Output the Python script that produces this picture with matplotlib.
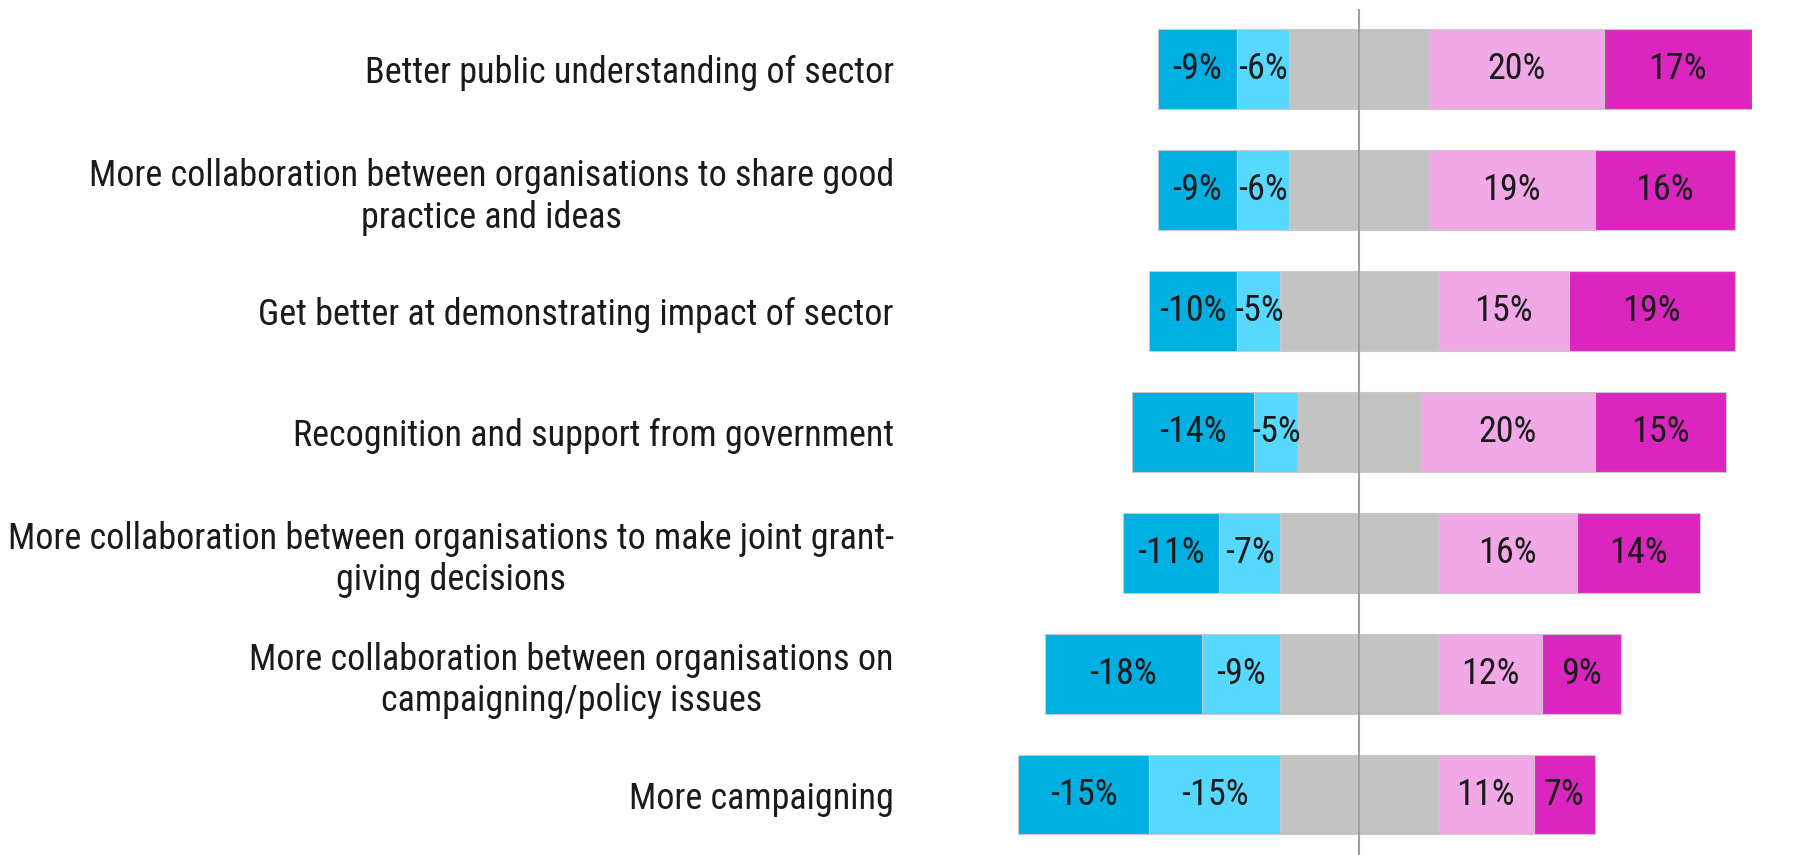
import matplotlib as mat
mat.use('Agg')
import matplotlib.pyplot as plt
from matplotlib import font_manager

categories = [
    "Better public understanding of sector",
    "More collaboration between organisations to share good\npractice and ideas",
    "Get better at demonstrating impact of sector",
    "Recognition and support from government",
    "More collaboration between organisations to make joint grant-\ngiving decisions",
    "More collaboration between organisations on\ncampaigning/policy issues",
    "More campaigning",
]
strong_neg = [-9, -9, -10, -14, -11, -18, -15]
neg = [-6, -6, -5, -5, -7, -9, -15]
neutral = [16, 16, 18, 14, 18, 18, 18]
pos = [20, 19, 15, 20, 16, 12, 11]
strong_pos = [17, 16, 19, 15, 14, 9, 7]

# pick a narrow font if one is around, the original text is fairly condensed
names = set(f.name for f in font_manager.fontManager.ttflist)
font, fsize = "DejaVu Sans", 20
for cand in ["Roboto Condensed", "Liberation Sans Narrow", "DejaVu Sans Condensed",
             "Noto Sans Condensed", "Open Sans Condensed"]:
    if cand in names:
        font, fsize = cand, 26
        break
plt.rcParams['font.family'] = [font, 'DejaVu Sans']

fig = plt.figure(figsize=(18.01, 8.55), dpi=100)
ax = fig.add_axes([0.5364, 0.0, 0.4364, 0.990])

y = list(range(len(categories)))
h = 0.66
edge = dict(edgecolor="#c8c8c8", linewidth=0.8)

for i in y:
    half = neutral[i] / 2
    left_light = -half + neg[i]
    left_dark = left_light + strong_neg[i]
    segs = [
        (left_dark, -strong_neg[i], "#00b0e2", strong_neg[i]),
        (left_light, -neg[i], "#57d9ff", neg[i]),
        (-half, neutral[i], "#c3c3c3", None),
        (half, pos[i], "#f0a8e6", pos[i]),
        (half + pos[i], strong_pos[i], "#da26be", strong_pos[i]),
    ]
    for start, width, col, lab in segs:
        ax.barh(i, width, left=start, height=h, color=col, **edge)
        if lab is not None:
            ax.text(start + width / 2, i, "{}%".format(lab), ha="center",
                    va="center", fontsize=fsize, color="#1a1a1a")

ax.axvline(0, color="#a0a0a0", linewidth=1.5, zorder=5)

ax.set_xlim(-45, 45)
ax.set_ylim(len(categories) - 0.5, -0.5)
ax.set_yticks(y)
ax.set_yticklabels(categories, fontsize=fsize, multialignment="center", color="#1a1a1a")
ax.tick_params(axis="y", length=0, pad=52)
ax.set_xticks([])
for s in ax.spines.values():
    s.set_visible(False)

fig.savefig("out.png", dpi=100)
